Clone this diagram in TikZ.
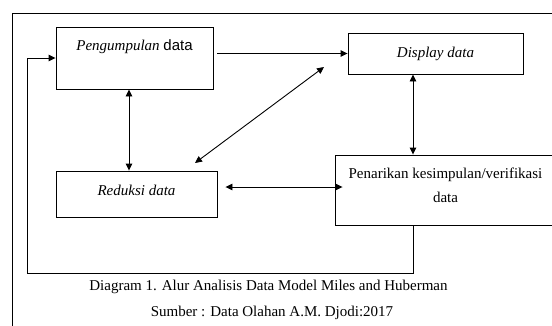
\documentclass[tikz,border=0pt]{standalone}
\usepackage{fontspec}
\setmainfont{Liberation Serif}
\newfontfamily\arialfont{Liberation Sans}
\usetikzlibrary{arrows.meta,positioning}

\begin{document}
\begin{tikzpicture}[
  x=1pt,y=-1pt,
  box/.style={draw,line width=0.9pt,align=center,inner sep=0pt,
              font=\fontsize{15}{24}\selectfont},
  arrow/.style={-{Triangle[length=7pt,width=6.5pt]},line width=0.9pt},
  twoway/.style={{Triangle[length=7pt,width=6.5pt]}-{Triangle[length=7pt,width=6.5pt]},
                 line width=0.9pt},
  caption/.style={font=\fontsize{15}{18}\selectfont}
]
\clip (0,0) rectangle (552,325);
\draw[line width=0.8pt] (12,330) -- (12,13) -- (560,13);
\node[box,minimum width=157pt,minimum height=62pt,text height=10pt,text depth=26pt]
  (peng) at (134.5,58) {\textit{Pengumpulan} {\arialfont data}};
\node[box,minimum width=175pt,minimum height=41pt] (disp) at (435.5,53.5) {\textit{Display data}};
\node[box,minimum width=161pt,minimum height=46pt,text height=10pt,text depth=8pt]
  (redu) at (136.5,194) {\textit{Reduksi data}};
\node[box,minimum width=221pt,minimum height=70pt,text height=28pt,text depth=4pt]
  (pena) at (445.5,190) {Penarikan kesimpulan/verifikasi\\data};
\node[caption] (cap1) at (268.5,287) {Diagram 1. Alur Analisis Data Model Miles and Huberman};
\node[caption] (cap2) at (272,313) {Sumber : Data Olahan A.M. Djodi:2017};
\coordinate (diagA) at (324,67);
\coordinate (diagB) at (195,163);
\coordinate (loopL) at (27,273);
\draw[arrow] ([xshift=4pt]peng.east |- disp.west) -- (disp.west);
\draw[twoway] ([xshift=-5.5pt]peng.south) -- ([xshift=-5.5pt]peng.south |- redu.north);
\draw[twoway] (diagA) -- (diagB);
\draw[twoway] ([xshift=-22.5pt]disp.south) -- ([xshift=-22.5pt]disp.south |- pena.north);
\draw[twoway] ([xshift=8pt,yshift=7pt]redu.east) -- ([xshift=8pt,yshift=7pt]redu.east -| pena.west);
\draw[arrow] ([xshift=-32.5pt]pena.south) |- (loopL) |- (peng.west);
\end{tikzpicture}
\end{document}
